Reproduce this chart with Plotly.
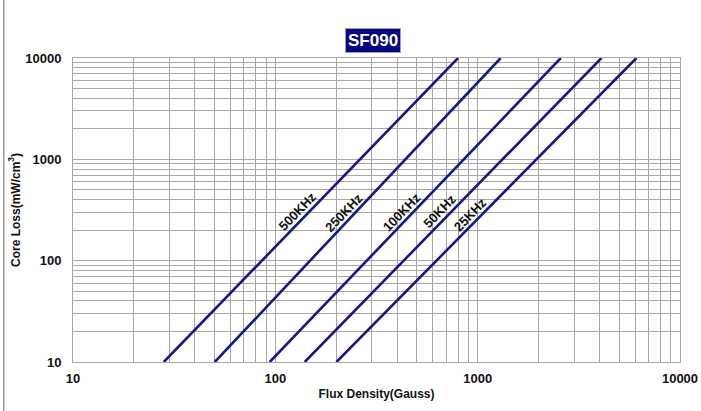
import plotly.graph_objects as go
import math

# ---- data ----
freq_labels = ["500KHz", "250KHz", "100KHz", "50KHz", "25KHz"]
core_loss = [10, 10000]                      # mW/cm3 (line end points)
flux_500k = [28.1, 800]
flux_250k = [50.2, 1300]
flux_100k = [93.8, 2576]
flux_50k = [139.7, 4093]
flux_25k = [200.4, 6095]
x_tick_vals = [10, 100, 1000, 10000]
y_tick_vals = [10, 100, 1000, 10000]
label_loss = [265, 262, 262, 265, 250]       # loss level where each curve label sits

series = [flux_500k, flux_250k, flux_100k, flux_50k, flux_25k]
LINE_COLOR = "#16168a"
GRID = "#a8a8a8"
FONT = "Arial, Liberation Sans, sans-serif"

fig = go.Figure()
for name, fx in zip(freq_labels, series):
    fig.add_trace(go.Scatter(x=fx, y=core_loss, mode="lines", name=name,
                             line=dict(color=LINE_COLOR, width=2.6),
                             showlegend=False, hoverinfo="x+y+name"))

annotations = []
for name, fx, ll in zip(freq_labels, series, label_loss):
    # point on the (log-log straight) line at loss ll
    ly0, ly1 = math.log10(core_loss[0]), math.log10(core_loss[1])
    lx0, lx1 = math.log10(fx[0]), math.log10(fx[1])
    t = (math.log10(ll) - ly0) / (ly1 - ly0)
    lx = lx0 + t * (lx1 - lx0)
    annotations.append(dict(x=lx, y=math.log10(ll), xref="x", yref="y",
                            text="<b>%s</b>" % name, showarrow=False,
                            textangle=-46, xshift=-6, yshift=6,
                            font=dict(family=FONT, size=13, color="#111111")))

annotations.append(dict(x=0.5, y=1.0, xref="paper", yref="paper",
                        yanchor="bottom", yshift=5, xshift=-4,
                        text="<b>SF090</b>", showarrow=False,
                        bgcolor="#06067e", bordercolor="#9a9ad0", borderwidth=1,
                        borderpad=2,
                        font=dict(family=FONT, size=17, color="white")))

minor_vals = [k * 10 ** e for e in range(1, 4) for k in range(2, 10)]

axis_common = dict(type="log", range=[1, 4], showgrid=True, gridcolor=GRID,
                   gridwidth=1, showline=True, linecolor=GRID, linewidth=1,
                   mirror=True, ticks="", zeroline=False, automargin=False,
                   tickfont=dict(family=FONT, size=13, color="#111111"),
                   minor=dict(tickvals=minor_vals, showgrid=True,
                              gridcolor=GRID, gridwidth=1))

fig.update_xaxes(**axis_common, tickvals=x_tick_vals, ticklabelstandoff=4,
                 ticktext=["<b>%d</b>" % v for v in x_tick_vals],
                 title=dict(text="<b>Flux Density(Gauss)</b>", standoff=5,
                            font=dict(family=FONT, size=12, color="#111111")))
fig.update_yaxes(**axis_common, tickvals=y_tick_vals, ticklabelstandoff=8,
                 ticktext=["<b>%d</b>" % v for v in y_tick_vals],
                 title=dict(text="<b>Core Loss(mW/cm<sup>3</sup>)</b>", standoff=2,
                            font=dict(family=FONT, size=12, color="#111111")))

fig.update_layout(
    width=701, height=411,
    margin=dict(l=73, r=21, t=58, b=49),
    paper_bgcolor="white", plot_bgcolor="white",
    annotations=annotations,
    shapes=[dict(type="rect", xref="paper", yref="paper", layer="above",
                 x0=(3 - 73) / 607, x1=(4.5 - 73) / 607, y0=-0.2, y1=1.25,
                 fillcolor="#9a9a9a", line=dict(width=0))],
)

fig.write_html("out.html", config={"displayModeBar": False},
               post_script="document.body.style.margin='0';document.body.style.overflow='hidden';")
